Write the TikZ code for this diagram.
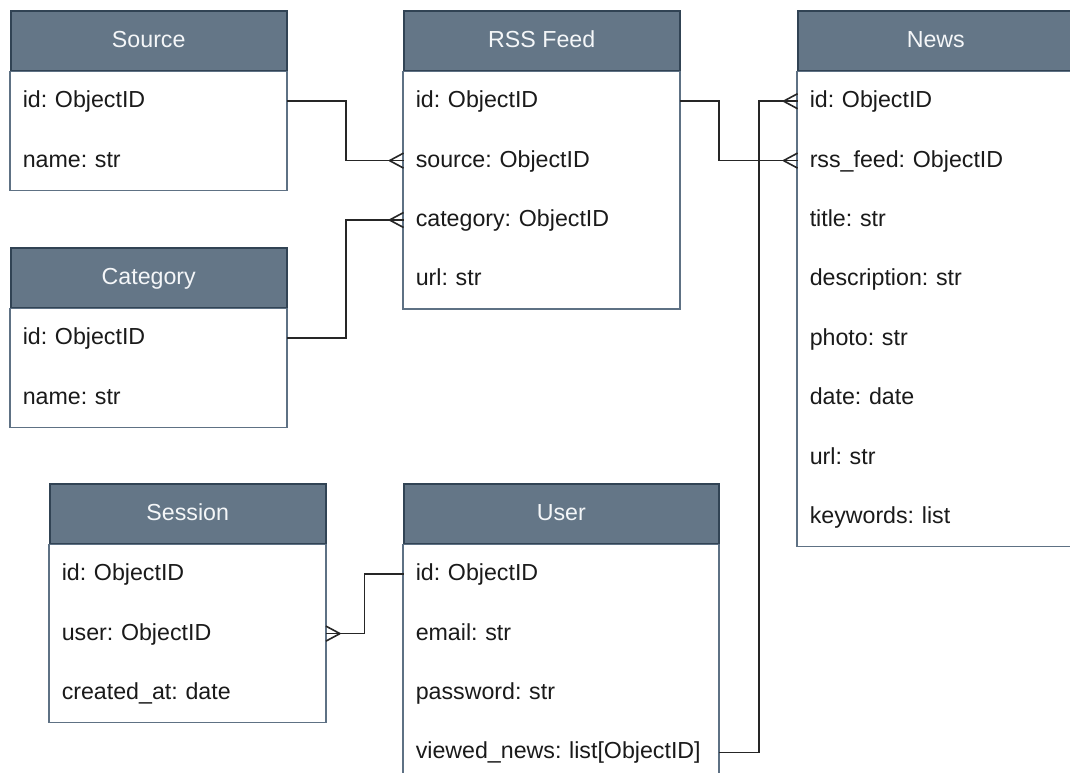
\documentclass[tikz,border=0pt]{standalone}
\usepackage{fontspec}
\setmainfont{Liberation Sans}
\usetikzlibrary{positioning}
\definecolor{hdrfill}{HTML}{647687}
\definecolor{hdrline}{HTML}{314354}
\definecolor{bodyline}{HTML}{5E7184}
\definecolor{txt}{HTML}{1A1A1A}
\definecolor{hdrtxt}{HTML}{F4F6F8}
\tikzset{
  x=1pt, y=-1pt,
  tfont/.style={font=\fontsize{23.2pt}{27pt}\selectfont\frenchspacing},
  head/.style={tfont, draw=hdrline, fill=hdrfill, text=hdrtxt, line width=1.5pt,
    minimum width=#1, minimum height=60pt, inner sep=0pt,
    text height=17pt, text depth=4pt},
  row/.style={tfont, text=txt, text width=#1, align=left, inner xsep=12pt,
    inner ysep=0pt, minimum height=59pt, text height=17pt, text depth=4pt},
  frame/.style={draw=bodyline, line width=1.5pt},
  conn/.style={draw=black!85, line width=1.6pt},
}
\newcommand{\crowL}[1]{% crow foot opening toward a box on the right of #1
  \draw[conn] (#1) ++(-14,0) -- ++(14,-7.5) (#1) ++(-14,0) -- ++(14,7.5);}
\newcommand{\crowR}[1]{% crow foot opening toward a box on the left of #1
  \draw[conn] (#1) ++(14,0) -- ++(-14,-7.5) (#1) ++(14,0) -- ++(-14,7.5);}
\begin{document}
\begin{tikzpicture}
\clip (0,0) rectangle (1070,772);
\fill[white] (0,0) rectangle (1070,772);

% Source
\node[head=276pt, anchor=north west] (src-h) at (10,10) {Source};
\node[row=252pt, below=0pt of src-h] (src-id) {id: ObjectID};
\node[row=252pt, below=0pt of src-id] (src-name) {name: str};

% Category
\node[head=276pt, anchor=north west] (cat-h) at (10,247) {Category};
\node[row=252pt, below=0pt of cat-h] (cat-id) {id: ObjectID};
\node[row=252pt, below=0pt of cat-id] (cat-name) {name: str};

% RSS Feed
\node[head=276pt, anchor=north west] (rss-h) at (403,10) {RSS Feed};
\node[row=252pt, below=0pt of rss-h] (rss-id) {id: ObjectID};
\node[row=252pt, below=0pt of rss-id] (rss-source) {source: ObjectID};
\node[row=252pt, below=0pt of rss-source] (rss-category) {category: ObjectID};
\node[row=252pt, below=0pt of rss-category] (rss-url) {url: str};

% News
\node[head=276pt, anchor=north west] (news-h) at (797,10) {News};
\node[row=252pt, below=0pt of news-h] (news-id) {id: ObjectID};
\node[row=252pt, below=0pt of news-id] (news-rss) {rss\_feed: ObjectID};
\node[row=252pt, below=0pt of news-rss] (news-title) {title: str};
\node[row=252pt, below=0pt of news-title] (news-desc) {description: str};
\node[row=252pt, below=0pt of news-desc] (news-photo) {photo: str};
\node[row=252pt, below=0pt of news-photo] (news-date) {date: date};
\node[row=252pt, below=0pt of news-date] (news-url) {url: str};
\node[row=252pt, below=0pt of news-url] (news-kw) {keywords: list};

% Session
\node[head=276pt, anchor=north west] (ses-h) at (49,483) {Session};
\node[row=252pt, below=0pt of ses-h] (ses-id) {id: ObjectID};
\node[row=252pt, below=0pt of ses-id] (ses-user) {user: ObjectID};
\node[row=252pt, below=0pt of ses-user] (ses-created) {created\_at: date};

% User
\node[head=315pt, anchor=north west] (user-h) at (403,483) {User};
\node[row=291pt, below=0pt of user-h] (user-id) {id: ObjectID};
\node[row=291pt, below=0pt of user-id] (user-email) {email: str};
\node[row=291pt, below=0pt of user-email] (user-pw) {password: str};
\node[row=291pt, below=0pt of user-pw] (user-viewed) {viewed\_news: list[ObjectID]};

% body frames
\draw[frame] (src-h.south west) rectangle (src-name.south east);
\draw[frame] (cat-h.south west) rectangle (cat-name.south east);
\draw[frame] (rss-h.south west) rectangle (rss-url.south east);
\draw[frame] (news-h.south west) rectangle (news-kw.south east);
\draw[frame] (ses-h.south west) rectangle (ses-created.south east);
\draw[frame] (user-h.south west) rectangle (user-viewed.south east);

% connectors
\draw[conn] (src-id.east) -- ++(59,0) |- (rss-source.west);
\crowL{rss-source.west}
\draw[conn] (cat-id.east) -- ++(59,0) |- (rss-category.west);
\crowL{rss-category.west}
\draw[conn] (rss-id.east) -- ++(39,0) |- (news-rss.west);
\crowL{news-rss.west}
\draw[conn] (user-viewed.east) -- ++(40,0) |- (news-id.west);
\crowL{news-id.west}
\draw[conn] (user-id.west) -- ++(-39,0) |- (ses-user.east);
\crowR{ses-user.east}
\end{tikzpicture}
\end{document}
